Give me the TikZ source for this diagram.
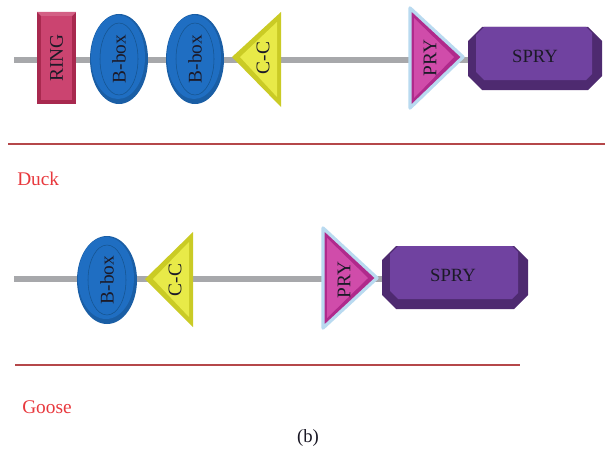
\documentclass[tikz,border=0pt]{standalone}
\usepackage{fontspec}
\setmainfont{Liberation Serif}
\usetikzlibrary{backgrounds}
\definecolor{bbgray}{HTML}{A7A8AB}
\definecolor{ringout}{HTML}{A8294F}
\definecolor{ringin}{HTML}{CB4470}
\definecolor{boxblue}{HTML}{1F6EC2}
\definecolor{boxedge}{HTML}{16548F}
\definecolor{ccout}{HTML}{CACB25}
\definecolor{ccin}{HTML}{E8EA48}
\definecolor{pryout}{HTML}{B02A8C}
\definecolor{pryin}{HTML}{D04CAA}
\definecolor{glow}{HTML}{B9DAF0}
\definecolor{spryout}{HTML}{4E2A70}
\definecolor{spryin}{HTML}{7042A0}
\definecolor{sepred}{HTML}{B5474A}
\definecolor{labred}{HTML}{E8383D}
\definecolor{ink}{HTML}{1C1A28}
\tikzset{
  backbone/.style={draw=bbgray, line width=4.5pt},
  sep/.style={draw=sepred, line width=1.6pt},
  vlabel/.style={rotate=90, font=\fontsize{14.5}{16}\selectfont, text=ink, inner sep=0pt},
  hlabel/.style={font=\fontsize{14}{16}\selectfont, text=ink, inner sep=0pt},
  species/.style={font=\fontsize{14.5}{17}\selectfont, text=labred, inner sep=0pt, anchor=base west},
  pryglow/.style={draw=glow, line width=2.5pt, line join=round, fill=pryout},
}
\begin{document}
\begin{tikzpicture}[x=0.75pt,y=-0.75pt]
\useasboundingbox (0,0) rectangle (605,453);
% ---------------- Duck ----------------
\coordinate (dstart) at (14,60);
\coordinate (dend) at (470,60);
% RING
\fill[ringout] (37,12) rectangle (76,104);
\fill[ringin!85!white] (37,12) -- (76,12) -- (72,16) -- (41,16) -- cycle;
\fill[ringin] (41,16) rectangle (72,100);
\node[vlabel] (ring) at (56.5,58) {RING};
% B-box 1
\fill[boxblue!85!black] (119,59) ellipse [x radius=29, y radius=45];
\fill[boxblue] (118,57) ellipse [x radius=27, y radius=42];
\draw[boxedge, line width=0.4pt] (119,59) ellipse [x radius=19, y radius=36];
\node[vlabel] (bbox1) at (119,59) {B-box};
% B-box 2
\fill[boxblue!85!black] (195,59) ellipse [x radius=29, y radius=45];
\fill[boxblue] (194,57) ellipse [x radius=27, y radius=42];
\draw[boxedge, line width=0.4pt] (195,59) ellipse [x radius=19, y radius=36];
\node[vlabel] (bbox2) at (195,59) {B-box};
% C-C
\fill[ccout] (232,57) -- (281,12) -- (281,107) -- cycle;
\fill[ccin] (240,57) -- (277,22) -- (277,97) -- cycle;
\node[vlabel] (cc1) at (263,58) {C-C};
% PRY
\draw[pryglow] (410,8) -- (463,57) -- (410,108) -- cycle;
\fill[pryin] (414,18) -- (454,57) -- (414,98) -- cycle;
\node[vlabel] (pry1) at (430,58) {PRY};
% SPRY
\fill[spryout] (482,27) -- (588,27) -- (602,41) -- (602,76) -- (588,90) -- (482,90) -- (468,76) -- (468,41) -- cycle;
\fill[spryin] (484,27) -- (586,27) -- (592,33) -- (592,74) -- (586,80) -- (484,80) -- (476,72) -- (476,35) -- cycle;
\node[hlabel] (spry1) at (535,56) {SPRY};
\begin{scope}[on background layer]
  \draw[backbone] (dstart) -- (dend);
\end{scope}
% separator
\coordinate (s1a) at (8,144);
\coordinate (s1b) at (605,144);
\draw[sep] (s1a) -- (s1b);
\node[species] (duck) at (17,185) {Duck};
% ---------------- Goose ----------------
\coordinate (gstart) at (14,279);
\coordinate (gend) at (384,279);
% B-box
\fill[boxblue!85!black] (107,280) ellipse [x radius=30, y radius=44];
\fill[boxblue] (106,278) ellipse [x radius=28, y radius=41];
\draw[boxedge, line width=0.4pt] (107,280) ellipse [x radius=19, y radius=35];
\node[vlabel] (bbox3) at (107,280) {B-box};
% C-C
\fill[ccout] (145,279) -- (193,232) -- (193,327) -- cycle;
\fill[ccin] (153,279) -- (189,242) -- (189,317) -- cycle;
\node[vlabel] (cc2) at (175,280) {C-C};
% PRY
\draw[pryglow] (323,228) -- (377,278) -- (323,328) -- cycle;
\fill[pryin] (327,238) -- (368,278) -- (327,318) -- cycle;
\node[vlabel] (pry2) at (344,280) {PRY};
% SPRY
\fill[spryout] (396,246) -- (514,246) -- (528,260) -- (528,295) -- (514,309) -- (396,309) -- (382,295) -- (382,260) -- cycle;
\fill[spryin] (398,246) -- (512,246) -- (518,252) -- (518,293) -- (512,299) -- (398,299) -- (390,291) -- (390,254) -- cycle;
\node[hlabel] (spry2) at (453,275) {SPRY};
\begin{scope}[on background layer]
  \draw[backbone] (gstart) -- (gend);
\end{scope}
% separator
\coordinate (s2a) at (15,365);
\coordinate (s2b) at (520,365);
\draw[sep] (s2a) -- (s2b);
\node[species] (goose) at (22,413) {Goose};
\node[font=\fontsize{14}{16}\selectfont, text=ink!90!black, inner sep=0pt] (cap) at (308,438) {(b)};
\end{tikzpicture}
\end{document}
